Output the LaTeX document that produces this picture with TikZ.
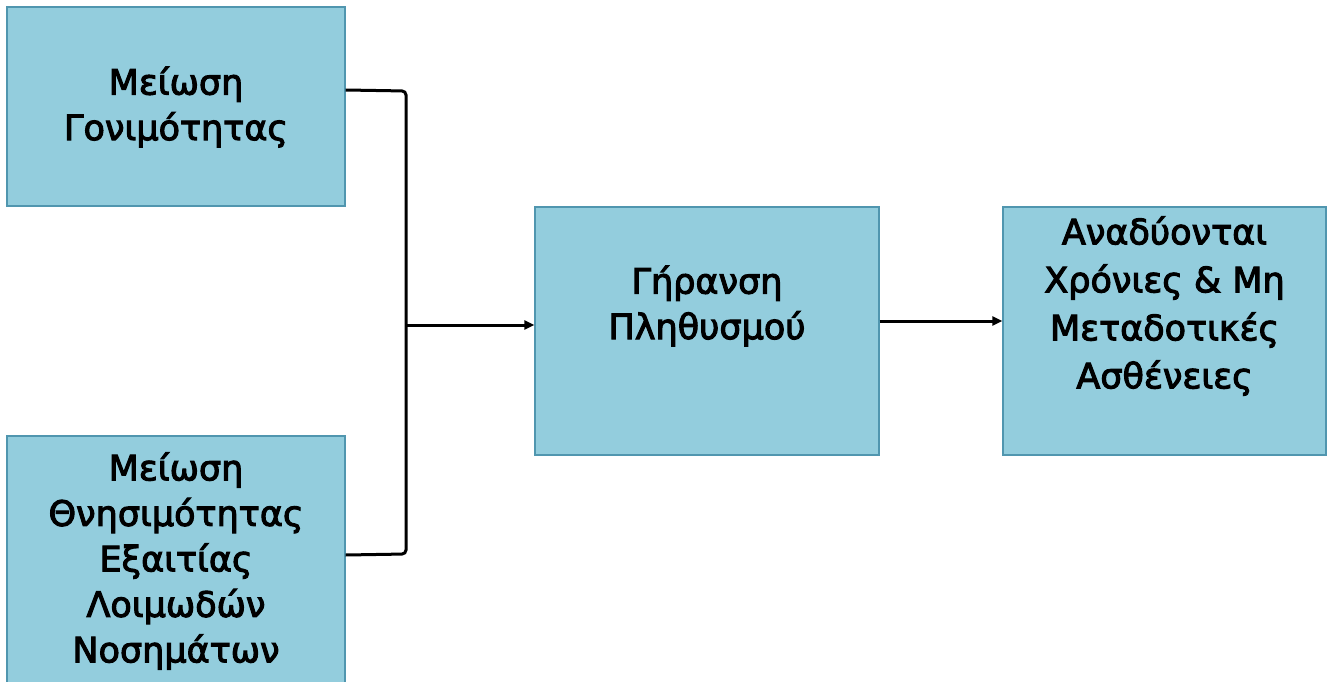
\documentclass[tikz,border=0pt]{standalone}
\usepackage{fontspec}
\setmainfont{DejaVu Sans}[BoldFont=DejaVu Sans, BoldFeatures={FakeBold=3}]
\usetikzlibrary{arrows.meta}
\definecolor{boxfill}{RGB}{147,205,221}
\definecolor{boxline}{RGB}{80,150,175}
\begin{document}
\begin{tikzpicture}[x=1pt,y=-1pt,
  box/.style={draw=boxline, line width=1.2pt, fill=boxfill, rectangle, inner sep=0pt},
  txt/.style={align=center, font=\fontsize{35}{45.5}\selectfont\bfseries, inner sep=0pt},
  conn/.style={line width=3pt, black},
  arr/.style={conn, -{Triangle[length=10pt,width=9pt]}}]
\useasboundingbox (0,0) rectangle (1330,682);
\node[box, minimum width=338pt, minimum height=199pt] (b1) at (176,106.5) {};
\node[box, minimum width=338pt, minimum height=270pt] (b2) at (176,571) {};
\node[box, minimum width=344pt, minimum height=248pt] (b3) at (707,331) {};
\node[box, minimum width=323pt, minimum height=248pt] (b4) at (1164.5,331) {};
\node[txt] (t1) at (176,107) {Μείωση\\Γονιμότητας};
\node[txt] (t2) at (176,561) {Μείωση\\Θνησιμότητας\\Εξαιτίας\\Λοιμωδών\\Νοσημάτων};
\node[txt] (t3) at (707,306) {Γήρανση\\Πληθυσμού};
\node[txt, font=\fontsize{35}{48}\selectfont\bfseries] (t4) at (1164.5,306) {Αναδύονται\\Χρόνιες \& Μη\\Μεταδοτικές\\Ασθένειες};
\coordinate (c1) at (406,91);
\coordinate (c2) at (406,554);
\coordinate (cm) at (406,325);
\draw[conn, rounded corners=4pt] (b1.east |- 0,90) -- (c1) -- (c2) -- (b1.east |- 0,555);
\draw[arr] (cm) -- (b3.west |- cm);
\draw[arr] (b3.east |- 0,321) -- (b4.west |- 0,321);
\end{tikzpicture}
\end{document}
